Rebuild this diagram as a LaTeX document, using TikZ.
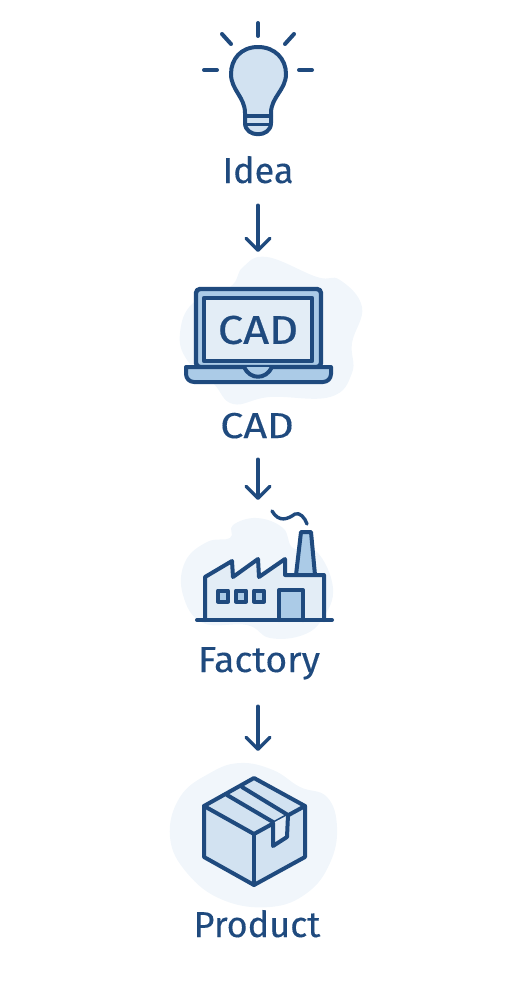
\documentclass[tikz,border=0pt]{standalone}
\usepackage{fontspec}
\setmainfont{Fira Sans}
\usetikzlibrary{arrows.meta}
\definecolor{inkblue}{HTML}{1F4A7E}
\definecolor{paleblue}{HTML}{D2E2F1}
\definecolor{midblue}{HTML}{ABCBE7}
\definecolor{screenblue}{HTML}{E3EDF6}
\definecolor{cloudblue}{HTML}{F1F6FB}

\begin{document}
\begin{tikzpicture}[x=1pt, y=-1pt,
    stroke/.style={draw=inkblue, line width=4pt, line join=round, line cap=round},
    cloud/.style={fill=cloudblue, draw=none, smooth cycle, tension=0.7},
    steplabel/.style={font=\fontsize{36}{36}\selectfont\addfontfeature{FakeBold=0.2}, text=inkblue, anchor=base, inner sep=0pt, text height=25pt, text depth=8pt},
    iconbox/.style={anchor=north, inner sep=0pt, minimum width=180pt, minimum height=150pt},
    flow/.style={draw=inkblue, line width=3.4pt, line cap=round, -{Straight Barb[length=12pt, width=24pt, line cap=round, line join=round]}}
]
    \useasboundingbox (0,0) rectangle (512,990);

    % --- 宏：一条向下的流程箭头 ---
    \newcommand{\flowarrow}[3]{
        \draw[flow, shorten <=#3pt] (#1.south -| #2.north) -- (#2.north);
    }

    % --- 灯泡 ---
    \fill[paleblue] (258,47) .. controls (241,47) and (231,59) .. (231,74)
        .. controls (231,90) and (245,97) .. (245,113) -- (245,123)
        .. controls (245,138) and (271,138) .. (271,123) -- (271,113)
        .. controls (271,97) and (286,90) .. (286,74)
        .. controls (286,59) and (275,47) .. (258,47) -- cycle;
    \draw[stroke] (258,47) .. controls (241,47) and (231,59) .. (231,74)
        .. controls (231,90) and (245,97) .. (245,113) -- (245,123)
        .. controls (245,138) and (271,138) .. (271,123) -- (271,113)
        .. controls (271,97) and (286,90) .. (286,74)
        .. controls (286,59) and (275,47) .. (258,47) -- cycle;
    \draw[stroke] (245,116) -- (271,116);
    \draw[stroke, line width=3pt] (245,124) -- (271,124);
    \draw[stroke] (258,23) -- (258,36);
    \draw[stroke] (222,34) -- (231,44);
    \draw[stroke] (294,34) -- (285,44);
    \draw[stroke] (204,70) -- (217,70);
    \draw[stroke] (299,70) -- (312,70);
    \node[steplabel] (lblidea) at (258,183) {Idea};

    % --- 笔记本 ---
    \node[iconbox] (icocad) at (258,252) {};
    \fill[cloud] plot coordinates {(267,257) (317,277) (340,280) (362,307) (352,343) (352,373) (330,397) (270,397) (233,404) (213,383) (187,360) (180,333) (193,303) (230,287) (243,267)};
    \draw[stroke, fill=midblue, rounded corners=4pt, line width=4.4pt] (196,367) -- (196,289) -- (321,289) -- (321,367) -- cycle;
    \draw[stroke, fill=screenblue, line width=4.4pt] (204,298) rectangle (312,361);
    \draw[stroke, fill=midblue] (186,367) -- (331,367) [rounded corners=8pt] -- (331,382) -- (186,382) [sharp corners] -- cycle;
    \draw[stroke, fill=midblue] (244,367) .. controls (250,380) and (266,380) .. (272,367);
    \node[font=\fontsize{40}{40}\selectfont\addfontfeature{FakeBold=0.6,FakeStretch=1.13}, text=inkblue, inner sep=0pt] (scrcad) at (258,330) {CAD};
    \node[steplabel, font=\fontsize{36}{36}\selectfont\addfontfeature{FakeBold=0.2,FakeStretch=1.15}] (lblcad) at (257,438) {CAD};

    % --- 工厂 ---
    \node[iconbox] (icofactory) at (258,500) {};
    \fill[cloud] plot coordinates {(257,518) (283,528) (293,548) (317,552) (333,588) (323,618) (303,635) (270,638) (247,625) (203,623) (183,595) (185,562) (207,542) (230,538) (233,525)};
    \draw[stroke, fill=midblue] (296,575) -- (301,532) -- (311,532) -- (315,575);
    \draw[stroke, fill=screenblue] (205,620) -- (205,577) -- (232,561) -- (233,577) -- (258,559) -- (259,577) -- (285,559) -- (285,575) -- (324,575) -- (324,620);
    \foreach \wx in {218,236,254}
        \draw[stroke, fill=midblue] (\wx,590.5) rectangle ++(10,11);
    \draw[stroke, fill=midblue] (279,620) -- (279,590) -- (303,590) -- (303,620);
    \draw[stroke] (197,620) -- (332,620);
    \draw[stroke, line width=3.4pt] (272,511) .. controls (279,523) and (288,519) .. (295,514) .. controls (300,512) and (305,518) .. (307,524);
    \node[steplabel, font=\fontsize{36}{36}\selectfont\addfontfeature{FakeBold=0.2,FakeStretch=1.04}] (lblfactory) at (259,672) {Factory};

    % --- 纸箱 ---
    \node[iconbox] (icoproduct) at (258,751) {};
    \fill[cloud] plot coordinates {(240,763) (273,770) (300,787) (327,797) (337,827) (330,863) (307,893) (270,907) (223,900) (187,873) (170,837) (180,797) (210,773)};
    \draw[stroke, fill=paleblue] (254,778) -- (305,806) -- (305,857) -- (254,885) -- (204,857) -- (204,806) -- cycle;
    \draw[stroke] (204,806) -- (254,834) -- (305,806);
    \draw[stroke] (254,834) -- (254,885);
    \draw[stroke] (227,795) -- (273,822);
    \draw[stroke] (242,787) -- (288,815);
    \draw[stroke, fill=screenblue] (273,823) -- (273,846) -- (287,837) -- (288,815);
    \node[steplabel] (lblproduct) at (257,937) {Product};

    % --- 箭头 ---
    \flowarrow{lblidea}{icocad}{14}
    \flowarrow{lblcad}{icofactory}{13}
    \flowarrow{lblfactory}{icoproduct}{26}
\end{tikzpicture}
\end{document}
